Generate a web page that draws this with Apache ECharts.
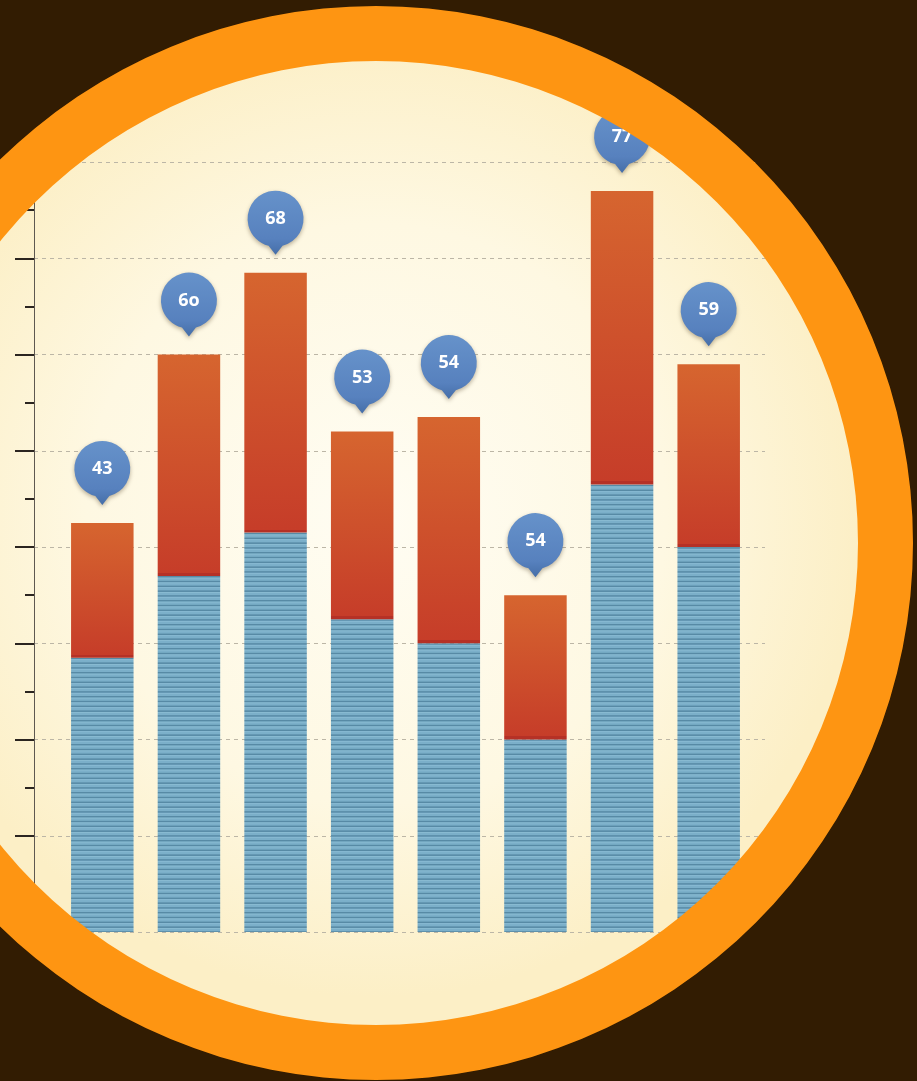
<!DOCTYPE html>
<html>
<head>
<meta charset="utf-8">
<script src="https://cdn.jsdelivr.net/npm/echarts@6/dist/echarts.min.js"></script>
<style>
  html, body { margin: 0; padding: 0; background: #321c02; }
  #chart { width: 917px; height: 1081px; }
</style>
</head>
<body>
<div id="chart"></div>
<script>
// Chart data
const categories = ['1', '2', '3', '4', '5', '6', '7', '8'];
const baseValues = [28.5, 37, 41.5, 32.5, 30, 20, 46.5, 40];
const topValues = [14, 23, 27, 19.5, 23.5, 15, 30.5, 19];
const pinLabels = ['43', '6o', '68', '53', '54', '54', '77', '59'];
const yMin = 0, yMax = 80, yStep = 10;

// Layout
const W = 917, H = 1081;
const plotTop = 162, plotBottom = 149;
const pxPerUnit = (H - plotTop - plotBottom) / (yMax - yMin);
const disc = { cx: 376, cy: 543, inner: 482, outer: 537 };

// Horizontal stripe pattern for the lower stack
function stripePattern() {
  const c = document.createElement('canvas');
  c.width = 8; c.height = 24;
  const g = c.getContext('2d');
  g.fillStyle = '#7bafc9';
  g.fillRect(0, 0, 8, 24);
  for (let k = 0; k < 5; k++) {
    const y = k * 4.8;
    g.fillStyle = '#578aa5';
    g.fillRect(0, y, 8, 1.5);
    g.fillStyle = '#8cbdd4';
    g.fillRect(0, y + 1.7, 8, 0.8);
  }
  return c;
}
const stripes = { image: stripePattern(), repeat: 'repeat' };

// Upper stack: orange-to-red gradient with a darker seam at its base
function topColor(v) {
  const seam = Math.min(0.2, 3 / (v * pxPerUnit));
  return new echarts.graphic.LinearGradient(0, 0, 0, 1, [
    { offset: 0, color: '#d6652f' },
    { offset: 1 - seam, color: '#c63d29' },
    { offset: 1 - seam, color: '#b53126' },
    { offset: 1, color: '#b53126' }
  ]);
}

// Balloon pin: circle with a small pointer below
const pinPath = 'path://M35,55.1 A28,28 0 1 0 21,55.1 L28,64 Z';

const chart = echarts.init(document.getElementById('chart'), null, { renderer: 'canvas' });

chart.setOption({
  backgroundColor: '#321c02',
  animation: false,
  grid: [
    { left: 34, right: 152, top: plotTop, bottom: plotBottom },
    { left: 59, right: 165, top: plotTop, bottom: plotBottom }
  ],
  xAxis: [
    { type: 'category', gridIndex: 0, data: categories, show: false },
    { type: 'category', gridIndex: 1, data: categories, show: false }
  ],
  yAxis: [
    {
      type: 'value', gridIndex: 0, min: yMin, max: yMax, interval: yStep,
      axisLine: { show: true, lineStyle: { color: '#5e5850', width: 1 } },
      axisTick: { show: true, length: 19, lineStyle: { color: '#2b2520', width: 2 } },
      minorTick: { show: true, splitNumber: 2, length: 9, lineStyle: { color: '#2b2520', width: 2 } },
      axisLabel: { show: false },
      splitLine: { show: true, lineStyle: { color: '#bcb6a6', width: 1, type: [4, 4] } }
    },
    { type: 'value', gridIndex: 1, min: yMin, max: yMax, interval: yStep, show: false, splitLine: { show: false } }
  ],
  series: [
    {
      type: 'bar', xAxisIndex: 1, yAxisIndex: 1, stack: 'total',
      barWidth: 62.5,
      itemStyle: { color: stripes },
      emphasis: { disabled: true },
      data: baseValues
    },
    {
      type: 'bar', xAxisIndex: 1, yAxisIndex: 1, stack: 'total',
      barWidth: 62.5,
      emphasis: { disabled: true },
      data: topValues.map(v => ({ value: v, itemStyle: { color: topColor(v) } })),
      markPoint: {
        symbol: pinPath,
        symbolSize: [56, 64],
        symbolOffset: [0, -50],
        itemStyle: {
          color: new echarts.graphic.LinearGradient(0, 0, 0, 1, [
            { offset: 0, color: '#6692ca' },
            { offset: 0.75, color: '#5781be' },
            { offset: 1, color: '#456ea8' }
          ]),
          shadowBlur: 4,
          shadowOffsetY: 2,
          shadowColor: 'rgba(60,40,10,0.35)'
        },
        label: {
          show: true,
          offset: [0, -4],
          color: '#ffffff',
          fontFamily: 'Open Sans',
          fontWeight: 'bold',
          fontSize: 18,
          formatter: p => pinLabels[p.dataIndex]
        },
        emphasis: { disabled: true },
        data: categories.map((c, i) => ({
          name: pinLabels[i],
          coord: [c, baseValues[i] + topValues[i]]
        }))
      }
    }
  ],
  graphic: [
    {
      type: 'circle', silent: true, z: -10,
      shape: { cx: disc.cx, cy: disc.cy, r: disc.inner + 1 },
      style: {
        fill: new echarts.graphic.RadialGradient(0.5, 0.47, 0.5, [
          { offset: 0, color: '#fffdf3' },
          { offset: 0.6, color: '#fef8e2' },
          { offset: 1, color: '#fcefc6' }
        ])
      }
    },
    {
      type: 'ring', silent: true, z: 100,
      shape: { cx: disc.cx, cy: disc.cy, r: 2000, r0: disc.outer },
      style: { fill: '#321c02' }
    },
    {
      type: 'ring', silent: true, z: 101,
      shape: { cx: disc.cx, cy: disc.cy, r: disc.outer, r0: disc.inner },
      style: { fill: '#fe9512' }
    }
  ]
});
</script>
</body>
</html>
